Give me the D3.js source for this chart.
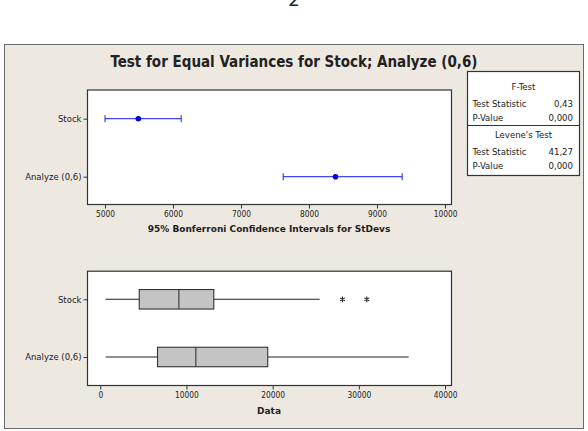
<!DOCTYPE html>
<html lang="en">
<head>
    <meta charset="UTF-8">
    <script src="https://cdn.jsdelivr.net/npm/d3@7"></script>
    <title>Test for Equal Variances</title>
    <style>
        body { margin: 0; background: #fff; }
        text { font-family: 'DejaVu Sans Condensed', 'Liberation Sans', sans-serif; fill: #222; }
        .bold { font-weight: bold; }
        .wide { font-family: 'DejaVu Sans', sans-serif; }
    </style>
</head>
<body>
    <div class="fig"></div>
    <script>
        // groups and values
        const groups = ["Stock", "Analyze (0,6)"];

        // 95% Bonferroni CIs for StDevs
        const ciLower = [5000, 7620];
        const ciEstimate = [5490, 8390];
        const ciUpper = [6120, 9370];
        const ciTicks = [5000, 6000, 7000, 8000, 9000, 10000];

        // boxplot summaries
        const whiskerLow = [615, 615];
        const q1 = [4520, 6640];
        const median = [9120, 11090];
        const q3 = [13170, 19430];
        const whiskerHigh = [25450, 35780];
        const outliers = [[28100, 30920], []];
        const dataTicks = [0, 10000, 20000, 30000, 40000];

        // legend table
        const fTest = [["Test Statistic", "0,43"], ["P-Value", "0,000"]];
        const leveneTest = [["Test Statistic", "41,27"], ["P-Value", "0,000"]];

        const width = 588, height = 431;
        const svg = d3.select(".fig").append("svg")
            .attr("width", width)
            .attr("height", height);

        // page number, cut off at the top like the scan
        svg.append("text")
            .attr("class", "wide")
            .attr("x", 294).attr("y", 6)
            .attr("text-anchor", "middle")
            .style("font-size", "18px")
            .text("2");

        // grey panel
        svg.append("rect")
            .attr("x", 4.5).attr("y", 44.5)
            .attr("width", 579).attr("height", 384)
            .attr("fill", "#ede9e1")
            .attr("stroke", "#6b6b6b");

        svg.append("text")
            .attr("class", "bold")
            .attr("x", 294).attr("y", 67)
            .attr("text-anchor", "middle")
            .style("font-size", "15px")
            .text("Test for Equal Variances for Stock; Analyze (0,6)");

        const plotLeft = 87, plotRight = 451;

        function drawFrame(top, bottom) {
            svg.append("rect")
                .attr("x", plotLeft + 0.5).attr("y", top + 0.5)
                .attr("width", plotRight - plotLeft).attr("height", bottom - top)
                .attr("fill", "#fff")
                .attr("stroke", "#333")
                .attr("stroke-width", 1.2);
        }

        function drawAxes(x, y, ticks, bottom, title, titleY) {
            const xAxis = svg.append("g")
                .attr("transform", `translate(0,${bottom + 0.5})`)
                .call(d3.axisBottom(x).tickValues(ticks).tickSize(4).tickPadding(3).tickFormat(d3.format("d")));
            xAxis.select(".domain").remove();
            xAxis.selectAll("line").attr("stroke", "#333");
            xAxis.selectAll("text")
                .attr("font-family", null)
                .style("font-size", "8.3px").attr("fill", "#222");

            const yAxis = svg.append("g")
                .attr("transform", `translate(${plotLeft + 0.5},0)`)
                .call(d3.axisLeft(y).tickSize(4).tickPadding(2));
            yAxis.select(".domain").remove();
            yAxis.selectAll("line").attr("stroke", "#333");
            yAxis.selectAll("text")
                .attr("class", "wide")
                .style("font-size", "8.5px").attr("fill", "#222");

            svg.append("text")
                .attr("class", "bold wide")
                .attr("x", (plotLeft + plotRight) / 2).attr("y", titleY)
                .attr("text-anchor", "middle")
                .style("font-size", "9px")
                .text(title);
        }

        // ---- top: confidence intervals ----
        const ciTop = 89.5, ciBottom = 204;
        drawFrame(ciTop, ciBottom);
        const xCi = d3.scaleLinear().domain([4735, 10088]).range([plotLeft, plotRight]);
        const yCi = d3.scalePoint().domain(groups).range([118.7, 176.7]);
        drawAxes(xCi, yCi, ciTicks, ciBottom, "95% Bonferroni Confidence Intervals for StDevs", 232);

        const blue = "#1a1aff";
        const ci = svg.append("g").selectAll("g")
            .data(groups)
            .join("g");
        ci.append("line")
            .attr("x1", (d, i) => xCi(ciLower[i])).attr("x2", (d, i) => xCi(ciUpper[i]))
            .attr("y1", d => yCi(d)).attr("y2", d => yCi(d))
            .attr("stroke", blue);
        ci.append("line")
            .attr("x1", (d, i) => xCi(ciLower[i])).attr("x2", (d, i) => xCi(ciLower[i]))
            .attr("y1", d => yCi(d) - 3.5).attr("y2", d => yCi(d) + 3.5)
            .attr("stroke", blue);
        ci.append("line")
            .attr("x1", (d, i) => xCi(ciUpper[i])).attr("x2", (d, i) => xCi(ciUpper[i]))
            .attr("y1", d => yCi(d) - 3.5).attr("y2", d => yCi(d) + 3.5)
            .attr("stroke", blue);
        ci.append("circle")
            .attr("cx", (d, i) => xCi(ciEstimate[i]))
            .attr("cy", d => yCi(d))
            .attr("r", 2.8)
            .attr("fill", "#0000e6");

        // ---- bottom: boxplots ----
        const bxTop = 270.7, bxBottom = 385;
        drawFrame(bxTop, bxBottom);
        const xBox = d3.scaleLinear().domain([-1540, 40690]).range([plotLeft, plotRight]);
        const yBox = d3.scalePoint().domain(groups).range([299.3, 357]);
        drawAxes(xBox, yBox, dataTicks, bxBottom, "Data", 414);

        const boxH = 19.5;
        const bx = svg.append("g").selectAll("g")
            .data(groups)
            .join("g");
        bx.append("line")
            .attr("x1", (d, i) => xBox(whiskerLow[i])).attr("x2", (d, i) => xBox(q1[i]))
            .attr("y1", d => yBox(d)).attr("y2", d => yBox(d))
            .attr("stroke", "#222").attr("stroke-width", 1.1);
        bx.append("line")
            .attr("x1", (d, i) => xBox(q3[i])).attr("x2", (d, i) => xBox(whiskerHigh[i]))
            .attr("y1", d => yBox(d)).attr("y2", d => yBox(d))
            .attr("stroke", "#222").attr("stroke-width", 1.1);
        bx.append("rect")
            .attr("x", (d, i) => xBox(q1[i]))
            .attr("width", (d, i) => xBox(q3[i]) - xBox(q1[i]))
            .attr("y", d => yBox(d) - boxH / 2)
            .attr("height", boxH)
            .attr("fill", "#c4c4c4")
            .attr("stroke", "#333")
            .attr("stroke-width", 1.1);
        bx.append("line")
            .attr("x1", (d, i) => xBox(median[i])).attr("x2", (d, i) => xBox(median[i]))
            .attr("y1", d => yBox(d) - boxH / 2).attr("y2", d => yBox(d) + boxH / 2)
            .attr("stroke", "#333").attr("stroke-width", 1.1);
        bx.selectAll("path.out")
            .data((d, i) => outliers[i].map(v => [v, yBox(d)]))
            .join("path")
            .attr("class", "out")
            .attr("transform", d => `translate(${xBox(d[0])},${d[1]})`)
            .attr("d", d3.symbol(d3.symbolAsterisk, 22))
            .attr("stroke", "#222")
            .attr("stroke-width", 1.1);

        // ---- legend table ----
        const lg = { left: 467.5, right: 579.5, top: 71.5, mid: 125.5, bottom: 175.5 };
        svg.append("rect")
            .attr("x", lg.left).attr("y", lg.top)
            .attr("width", lg.right - lg.left).attr("height", lg.bottom - lg.top)
            .attr("fill", "#fff").attr("stroke", "#333").attr("stroke-width", 1.2);
        svg.append("line")
            .attr("x1", lg.left).attr("x2", lg.right)
            .attr("y1", lg.mid).attr("y2", lg.mid)
            .attr("stroke", "#333").attr("stroke-width", 1.2);

        function legendBlock(title, rows, titleY, rowY) {
            svg.append("text")
                .attr("x", (lg.left + lg.right) / 2).attr("y", titleY)
                .attr("text-anchor", "middle")
                .style("font-size", "9.5px")
                .text(title);
            rows.forEach((r, i) => {
                svg.append("text")
                    .attr("x", 472.5).attr("y", rowY + i * 14.3)
                    .style("font-size", "9.5px")
                    .text(r[0]);
                svg.append("text")
                    .attr("x", 573).attr("y", rowY + i * 14.3)
                    .attr("text-anchor", "end")
                    .style("font-size", "9.5px")
                    .text(r[1]);
            });
        }
        legendBlock("F-Test", fTest, 90, 106.7);
        legendBlock("Levene's Test", leveneTest, 138.3, 155);
    </script>
</body>
</html>
